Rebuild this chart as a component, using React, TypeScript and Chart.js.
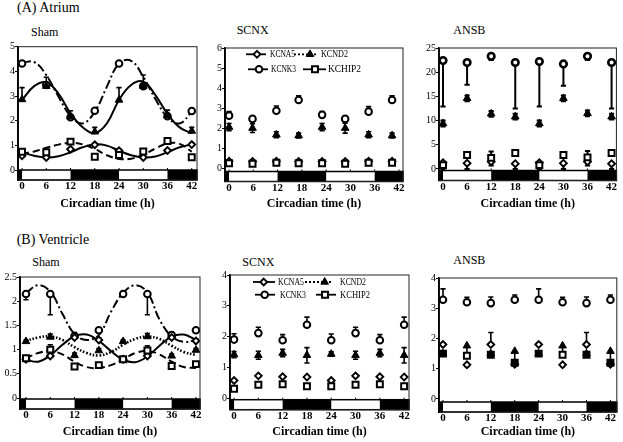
import React, { useEffect, useRef } from 'react';
import { Chart, registerables } from 'chart.js';

Chart.register(...registerables);

const FONT = "'Liberation Serif', 'DejaVu Serif', 'Noto Serif', serif";

// ---------- time axes ----------
const hours = [0, 6, 12, 18, 24, 30, 36, 42];
const hoursScnxAtrium = [0, 5.8, 11.7, 17.2, 23, 28.7, 34.5, 40.3];
const fitHours = [0, 3, 6, 9, 12, 15, 18, 21, 24, 27, 30, 33, 36, 39, 42];
const xTicks = [0, 6, 12, 18, 24, 30, 36, 42];
const darkPhases = [[-12, 0], [12, 24], [36, 60]];

// ---------- y tick labels ----------
const yTicksAtriumSham = [0, 1, 2, 3, 4, 5];
const yTicksAtriumScnx = [0, 1, 2, 3, 4, 5, 6];
const yTicksAtriumAnsb = [0, 5, 10, 15, 20, 25];
const yTicksVentSham = [0, 0.5, 1, 1.5, 2, 2.5];
const yTicksVentScnx = [0, 1, 2, 3, 4];
const yTicksVentAnsb = [0, 1, 2, 3, 4];

// ---------- (A) Atrium, Sham ----------
const aShamKCNA5 = [0.58, 0.51, 0.84, 1.02, 0.78, 0.51, 0.79, 1.03];
const aShamKCNA5Err = [0.05, 0.04, 0.06, 0.05, 0.06, 0.04, 0.05, 0.05];
const aShamKCND2 = [2.86, 3.4, 2.16, 1.55, 2.84, 3.4, 2.2, 1.58];
const aShamKCND2Err = [0.48, 0.36, 0.24, 0.18, 0.5, 0.45, 0.23, 0.15];
const aShamKCNK3 = [4.32, 3.45, 2.14, 2.4, 4.32, 3.4, 2.18, 2.39];
const aShamKCNK3Err = [0.05, 0.05, 0.05, 0.06, 0.05, 0.05, 0.05, 0.08];
const aShamKCHIP2 = [0.74, 0.72, 1.15, 0.54, 0.61, 0.75, 1.18, 0.52];
const aShamKCHIP2Err = [0.08, 0.06, 0.08, 0.05, 0.15, 0.06, 0.08, 0.04];
const aShamFitKCNK3 = [4.35, 4.38, 3.85, 2.98, 2.19, 1.89, 2.36, 3.38, 4.32, 4.43, 3.78, 2.88, 2.14, 1.89, 2.36];
const aShamFitKCND2 = [2.84, 3.4, 3.56, 3.1, 2.3, 1.73, 1.49, 1.89, 2.84, 3.45, 3.58, 3.04, 2.27, 1.73, 1.49];
const aShamFitKCNA5 = [0.72, 0.58, 0.51, 0.56, 0.72, 0.92, 1.04, 0.99, 0.78, 0.6, 0.51, 0.55, 0.72, 0.92, 1.04];
const aShamFitKCHIP2 = [0.66, 0.75, 0.9, 1.03, 1.1, 1.04, 0.85, 0.6, 0.45, 0.46, 0.62, 0.87, 1.08, 1.06, 0.74];

// ---------- (A) Atrium, SCNX ----------
const aScnxKCNA5 = [0.37, 0.36, 0.37, 0.36, 0.36, 0.36, 0.37, 0.37];
const aScnxKCNA5Err = [0.05, 0.05, 0.05, 0.05, 0.05, 0.05, 0.05, 0.05];
const aScnxKCND2 = [2.07, 2.02, 1.69, 1.65, 2.07, 2.02, 1.69, 1.65];
const aScnxKCND2Err = [0.18, 0.22, 0.15, 0.12, 0.18, 0.25, 0.15, 0.12];
const aScnxKCNK3 = [2.64, 2.48, 2.88, 3.42, 2.68, 2.48, 2.84, 3.42];
const aScnxKCNK3Err = [0.2, 0.06, 0.24, 0.2, 0.16, 0.06, 0.25, 0.2];
const aScnxKCHIP2 = [0.28, 0.25, 0.3, 0.28, 0.28, 0.25, 0.3, 0.3];
const aScnxKCHIP2Err = [0.05, 0.05, 0.05, 0.05, 0.05, 0.05, 0.05, 0.05];

// ---------- (A) Atrium, ANSB ----------
const aAnsbKCNA5 = [1.3, 1.2, 1.5, 1.1, 1.3, 1.2, 1.5, 1.1];
const aAnsbKCNA5Err = [-1.3, -1.2, -0.8, -1.1, -1.3, -1.2, -0.8, -1.1];
const aAnsbKCND2 = [9.4, 14.6, 11.4, 10.8, 9.4, 14.6, 11.5, 10.8];
const aAnsbKCND2Err = [0.6, 0.6, 0.6, 0.6, 0.6, 0.6, 0.6, 0.6];
const aAnsbKCNK3 = [22.4, 22.0, 23.3, 22.0, 22.2, 21.7, 23.3, 22.0];
const aAnsbKCNK3Err = [-9.5, -4.6, -0.8, -9.5, -9.3, -4.5, -0.8, -9.5];
const aAnsbKCHIP2 = [0.8, 2.9, 2.3, 3.3, 0.8, 2.9, 2.4, 3.3];
const aAnsbKCHIP2Err = [0.3, 0.4, 1.3, 0.4, 0.3, 0.4, 1.3, 0.4];

// ---------- (B) Ventricle, Sham ----------
const bShamKCNA5 = [0.8, 0.87, 1.25, 1.2, 0.8, 0.87, 1.25, 1.18];
const bShamKCNA5Err = [0.03, 0.04, 0.1, 0.04, 0.03, 0.04, 0.1, 0.04];
const bShamKCND2 = [1.17, 1.26, 0.88, 0.98, 1.17, 1.27, 0.87, 0.99];
const bShamKCND2Err = [0.03, 0.06, 0.05, 0.04, 0.03, 0.06, 0.04, 0.03];
const bShamKCNK3 = [2.15, 2.15, 1.28, 1.4, 2.15, 2.15, 1.3, 1.4];
const bShamKCNK3Err = [-0.12, -0.43, 0.05, 0.05, 0.04, -0.43, 0.05, 0.05];
const bShamKCHIP2 = [0.82, 1.0, 0.65, 0.68, 0.8, 0.98, 0.66, 0.7];
const bShamKCHIP2Err = [0.04, 0.1, 0.04, 0.05, 0.04, 0.1, 0.04, 0.05];
const bShamFitKCNK3 = [2.17, 2.33, 2.2, 1.74, 1.32, 1.2, 1.3, 1.78, 2.17, 2.33, 2.18, 1.62, 1.27, 1.16, 1.2];
const bShamFitKCNA5 = [0.79, 0.75, 0.88, 1.1, 1.28, 1.31, 1.18, 0.97, 0.79, 0.74, 0.86, 1.08, 1.27, 1.31, 1.2];
const bShamFitKCND2 = [1.18, 1.25, 1.27, 1.2, 1.05, 0.93, 0.88, 0.95, 1.1, 1.22, 1.27, 1.22, 1.08, 0.95, 0.89];
const bShamFitKCHIP2 = [0.82, 0.93, 0.97, 0.9, 0.75, 0.64, 0.62, 0.68, 0.8, 0.93, 0.97, 0.9, 0.75, 0.64, 0.62];

// ---------- (B) Ventricle, SCNX ----------
const bScnxKCNA5 = [0.57, 0.72, 0.69, 0.68, 0.57, 0.72, 0.69, 0.68];
const bScnxKCNA5Err = [0.03, 0.03, 0.03, 0.03, 0.03, 0.03, 0.03, 0.03];
const bScnxKCND2 = [1.41, 1.39, 1.46, 1.39, 1.43, 1.39, 1.46, 1.39];
const bScnxKCND2Err = [0.1, 0.13, 0.12, 0.25, 0.07, 0.13, 0.12, 0.25];
const bScnxKCNK3 = [1.9, 2.11, 1.88, 2.38, 1.88, 2.11, 1.88, 2.38];
const bScnxKCNK3Err = [0.19, 0.19, 0.18, 0.25, 0.2, 0.19, 0.18, 0.25];
const bScnxKCHIP2 = [0.3, 0.43, 0.45, 0.38, 0.38, 0.43, 0.45, 0.38];
const bScnxKCHIP2Err = [0.05, 0.05, 0.05, 0.05, 0.05, 0.05, 0.05, 0.05];

// ---------- (B) Ventricle, ANSB ----------
const bAnsbKCNA5 = [1.8, 1.13, 1.8, 1.15, 1.8, 1.13, 1.8, 1.15];
const bAnsbKCNA5Err = [0.05, -0.05, 0.4, -0.05, 0.05, -0.05, 0.4, -0.05];
const bAnsbKCND2 = [1.5, 1.76, 1.5, 1.58, 1.5, 1.76, 1.5, 1.58];
const bAnsbKCND2Err = [0, -0.3, 0, -0.35, 0, -0.3, 0, -0.4];
const bAnsbKCNK3 = [3.28, 3.2, 3.17, 3.28, 3.28, 3.2, 3.17, 3.28];
const bAnsbKCNK3Err = [0.36, 0.16, 0.2, 0.16, 0.36, 0.16, 0.2, 0.16];
const bAnsbKCHIP2 = [1.5, 1.43, 1.46, 1.2, 1.5, 1.46, 1.46, 1.2];

// ---------- styling ----------
const GENE_STYLE: Record<string, any> = {
  KCNA5: { pointStyle: 'rectRot', pointRadius: 3.4, pointBackgroundColor: '#fff', pointBorderColor: '#000', pointBorderWidth: 1.9 },
  KCND2: { pointStyle: 'triangle', pointRadius: 4.4, pointBackgroundColor: '#000', pointBorderColor: '#000', pointBorderWidth: 1 },
  KCNK3: { pointStyle: 'circle', pointRadius: 3.3, pointBackgroundColor: '#fff', pointBorderColor: '#000', pointBorderWidth: 2 },
  KCHIP2: { pointStyle: 'rect', pointRadius: 4.2, pointBackgroundColor: '#fff', pointBorderColor: '#000', pointBorderWidth: 2 },
};

const pts = (xs: number[], ys: number[]) => ys.map((y, i) => ({ x: xs[i], y }));

function markers(label: string, xs: number[], ys: number[], err: number[], extra: any = {}) {
  return {
    label,
    data: pts(xs, ys),
    showLine: false,
    ...GENE_STYLE[label],
    err,
    ...extra,
  };
}

function fitLine(label: string, ys: number[], dash: number[], width = 2) {
  return {
    label,
    isFit: true,
    data: pts(fitHours, ys),
    showLine: true,
    pointRadius: 0,
    borderColor: '#000',
    borderWidth: width,
    borderDash: dash,
    borderCapStyle: 'butt',
    tension: 0.4,
    fill: false,
  };
}

const DASH_DOT = [9, 3, 2, 3];
const DASHED = [7, 4];
const DOTTED = [2, 2];

function drawMarker(ctx: CanvasRenderingContext2D, st: any, x: number, y: number) {
  const r = st.pointRadius;
  ctx.save();
  ctx.fillStyle = st.pointBackgroundColor;
  ctx.strokeStyle = st.pointBorderColor;
  ctx.lineWidth = st.pointBorderWidth;
  ctx.setLineDash([]);
  ctx.beginPath();
  if (st.pointStyle === 'circle') {
    ctx.arc(x, y, r, 0, Math.PI * 2);
  } else if (st.pointStyle === 'rect') {
    const s = r * Math.SQRT1_2;
    ctx.rect(x - s, y - s, 2 * s, 2 * s);
  } else if (st.pointStyle === 'rectRot') {
    ctx.moveTo(x, y - r);
    ctx.lineTo(x + r, y);
    ctx.lineTo(x, y + r);
    ctx.lineTo(x - r, y);
    ctx.closePath();
  } else {
    for (let k = 0; k < 3; k++) {
      const a = (k * 2 * Math.PI) / 3;
      const px = x + Math.sin(a) * r;
      const py = y - Math.cos(a) * r;
      if (k === 0) ctx.moveTo(px, py);
      else ctx.lineTo(px, py);
    }
    ctx.closePath();
  }
  ctx.fill();
  ctx.stroke();
  ctx.restore();
}

function makeDecor(cfg: any) {
  return {
    id: 'decor_' + cfg.id,
    beforeDatasetsDraw(chart: any) {
      const { ctx, chartArea: a, scales } = chart;
      const xs = scales.x;
      const ys = scales.y;
      // light/dark bar
      const top = a.bottom - 10;
      ctx.save();
      ctx.fillStyle = '#fff';
      ctx.fillRect(a.left, top, a.right - a.left, 10);
      ctx.fillStyle = '#000';
      darkPhases.forEach(([s, e]) => {
        const x1 = Math.max(a.left, xs.getPixelForValue(s));
        const x2 = Math.min(a.right, xs.getPixelForValue(e));
        if (x2 > x1) ctx.fillRect(x1, top, x2 - x1, 10);
      });
      ctx.strokeStyle = '#000';
      ctx.lineWidth = 1.5;
      ctx.strokeRect(a.left, top, a.right - a.left, 10);
      // small tick marks on top of the bar
      ctx.lineWidth = 1;
      xTicks.forEach((t) => {
        const px = xs.getPixelForValue(t);
        ctx.beginPath();
        ctx.moveTo(px, top);
        ctx.lineTo(px, top - 2);
        ctx.stroke();
      });
      // error bars
      ctx.lineWidth = cfg.errWidth || 1.6;
      chart.data.datasets.forEach((ds: any, i: number) => {
        if (!ds.err) return;
        const meta = chart.getDatasetMeta(i);
        meta.data.forEach((pt: any, j: number) => {
          const e = ds.err[j];
          if (!e) return;
          const v = ds.data[j].y;
          const ends = ds.errBoth ? [v + e, v - e] : [v + e];
          ends.forEach((ev: number) => {
            const py = ys.getPixelForValue(ev);
            ctx.beginPath();
            ctx.moveTo(pt.x, pt.y);
            ctx.lineTo(pt.x, py);
            ctx.moveTo(pt.x - 2.6, py);
            ctx.lineTo(pt.x + 2.6, py);
            ctx.stroke();
          });
        });
      });
      ctx.restore();
    },
    afterDraw(chart: any) {
      const { ctx, chartArea: a } = chart;
      ctx.save();
      ctx.strokeStyle = '#222';
      ctx.lineWidth = 1;
      ctx.strokeRect(a.left, a.top, a.right - a.left, a.bottom - a.top);
      ctx.strokeStyle = '#000';
      ctx.lineWidth = 1.6;
      ctx.beginPath();
      ctx.moveTo(a.left, a.top);
      ctx.lineTo(a.left, a.bottom);
      ctx.stroke();
      if (cfg.legend) {
        cfg.legend.forEach((en: any) => {
          const y = a.top + en.y;
          ctx.strokeStyle = '#000';
          ctx.lineWidth = 1.8;
          ctx.setLineDash(en.dash || []);
          ctx.beginPath();
          ctx.moveTo(a.left + en.x1, y);
          ctx.lineTo(a.left + en.x2, y);
          ctx.stroke();
          ctx.setLineDash([]);
          drawMarker(ctx, GENE_STYLE[en.label], a.left + en.mx, y);
          ctx.fillStyle = '#000';
          ctx.font = `10px ${FONT}`;
          ctx.textBaseline = 'middle';
          ctx.textAlign = 'left';
          ctx.fillText(en.label, a.left + en.tx, y + 0.5, en.tw);
        });
      }
      ctx.restore();
    },
  };
}

const legendAtrium = [
  { label: 'KCNA5', y: 6.3, x1: 21, x2: 41, mx: 32, tx: 45, tw: 25 },
  { label: 'KCND2', y: 6.3, x1: 69, x2: 93, mx: 85, tx: 96, tw: 27, dash: DOTTED },
  { label: 'KCNK3', y: 21.3, x1: 23, x2: 43, mx: 34, tx: 46, tw: 25 },
  { label: 'KCHIP2', y: 21.3, x1: 78, x2: 101, mx: 90, tx: 103, tw: 33 },
];
const legendVentricle = [
  { label: 'KCNA5', y: 7, x1: 23, x2: 45, mx: 33.7, tx: 48, tw: 26 },
  { label: 'KCND2', y: 7, x1: 75, x2: 103, mx: 94.7, tx: 110, tw: 26, dash: DOTTED },
  { label: 'KCNK3', y: 19.7, x1: 25, x2: 45, mx: 34.7, tx: 50, tw: 26 },
  { label: 'KCHIP2', y: 19.7, x1: 86, x2: 106, mx: 95, tx: 110, tw: 30 },
];

const panels: any[] = [
  {
    id: 'aSham',
    canvas: { x: 0, y: 36, w: 205, h: 175 },
    area: { l: 18, t: 46.7, r: 197, b: 180 },
    xr: [-1.0, 43.3],
    yr: [-0.405, 5],
    yTicks: yTicksAtriumSham,
    datasets: () => [
      markers('KCND2', hours, aShamKCND2, aShamKCND2Err),
      markers('KCHIP2', hours, aShamKCHIP2, aShamKCHIP2Err),
      markers('KCNA5', hours, aShamKCNA5, aShamKCNA5Err),
      markers('KCNK3', hours, aShamKCNK3, aShamKCNK3Err),
      fitLine('KCNK3', aShamFitKCNK3, DASH_DOT),
      fitLine('KCND2', aShamFitKCND2, []),
      fitLine('KCNA5', aShamFitKCNA5, []),
      fitLine('KCHIP2', aShamFitKCHIP2, DASHED),
    ],
  },
  {
    id: 'aScnx',
    canvas: { x: 207, y: 38, w: 205, h: 173 },
    area: { l: 225, t: 48, r: 403, b: 181.5 },
    xr: [-1.0, 43.0],
    yr: [-0.63, 6],
    yTicks: yTicksAtriumScnx,
    legend: legendAtrium,
    datasets: () => [
      markers('KCND2', hoursScnxAtrium, aScnxKCND2, aScnxKCND2Err, { errBoth: true }),
      markers('KCHIP2', hoursScnxAtrium, aScnxKCHIP2, aScnxKCHIP2Err),
      markers('KCNA5', hoursScnxAtrium, aScnxKCNA5, aScnxKCNA5Err),
      markers('KCNK3', hoursScnxAtrium, aScnxKCNK3, aScnxKCNK3Err),
    ],
  },
  {
    id: 'aAnsb',
    canvas: { x: 419, y: 38, w: 204, h: 173 },
    area: { l: 439, t: 48, r: 618, b: 180.5 },
    xr: [-1.0, 43.2],
    yr: [-2.38, 25],
    yTicks: yTicksAtriumAnsb,
    errWidth: 2,
    datasets: () => [
      markers('KCND2', hours, aAnsbKCND2, aAnsbKCND2Err, { errBoth: true }),
      markers('KCHIP2', hours, aAnsbKCHIP2, aAnsbKCHIP2Err),
      markers('KCNA5', hours, aAnsbKCNA5, aAnsbKCNA5Err),
      markers('KCNK3', hours, aAnsbKCNK3, aAnsbKCNK3Err, { pointBorderWidth: 2.6 }),
    ],
  },
  {
    id: 'bSham',
    canvas: { x: 0, y: 267, w: 208, h: 172 },
    area: { l: 20, t: 277, r: 200, b: 409 },
    xr: [-1.48, 43.0],
    yr: [-0.227, 2.5],
    yTicks: yTicksVentSham,
    datasets: () => [
      markers('KCND2', hours, bShamKCND2, bShamKCND2Err),
      markers('KCHIP2', hours, bShamKCHIP2, bShamKCHIP2Err),
      markers('KCNA5', hours, bShamKCNA5, bShamKCNA5Err),
      markers('KCNK3', hours, bShamKCNK3, bShamKCNK3Err),
      fitLine('KCNK3', bShamFitKCNK3, DASH_DOT),
      fitLine('KCNA5', bShamFitKCNA5, []),
      fitLine('KCND2', bShamFitKCND2, [1.6, 1.8], 2.6),
      fitLine('KCHIP2', bShamFitKCHIP2, DASHED),
    ],
  },
  {
    id: 'bScnx',
    canvas: { x: 212, y: 265, w: 205, h: 174 },
    area: { l: 230, t: 275, r: 409, b: 409.7 },
    xr: [-1.0, 43.2],
    yr: [-0.38, 4],
    yTicks: yTicksVentScnx,
    legend: legendVentricle,
    datasets: () => [
      markers('KCND2', hours, bScnxKCND2, bScnxKCND2Err, { errBoth: true }),
      markers('KCHIP2', hours, bScnxKCHIP2, bScnxKCHIP2Err),
      markers('KCNA5', hours, bScnxKCNA5, bScnxKCNA5Err),
      markers('KCNK3', hours, bScnxKCNK3, bScnxKCNK3Err),
    ],
  },
  {
    id: 'bAnsb',
    canvas: { x: 419, y: 268, w: 204, h: 171 },
    area: { l: 439, t: 278, r: 619.5, b: 412 },
    xr: [-1.0, 43.6],
    yr: [-0.43, 4],
    yTicks: yTicksVentAnsb,
    datasets: () => [
      markers('KCND2', hours, bAnsbKCND2, bAnsbKCND2Err),
      markers('KCHIP2', hours, bAnsbKCHIP2, [0, 0, 0, 0, 0, 0, 0, 0], {
        pointBackgroundColor: ['#000', '#fff', '#000', '#000', '#000', '#fff', '#000', '#000'],
      }),
      markers('KCNA5', hours, bAnsbKCNA5, bAnsbKCNA5Err),
      markers('KCNK3', hours, bAnsbKCNK3, bAnsbKCNK3Err),
    ],
  },
];

function Panel({ cfg }: { cfg: any }) {
  const ref = useRef<HTMLCanvasElement | null>(null);
  useEffect(() => {
    if (!ref.current) return;
    const { canvas, area } = cfg;
    const padTop = area.t - canvas.y;
    const padRight = canvas.x + canvas.w - area.r;
    const yW = area.l - canvas.x;
    const xH = canvas.y + canvas.h - area.b;
    const chart = new Chart(ref.current, {
      type: 'scatter',
      data: { datasets: cfg.datasets() },
      options: {
        animation: false,
        responsive: false,
        maintainAspectRatio: false,
        devicePixelRatio: 1,
        layout: { padding: { top: padTop, right: padRight, left: 0, bottom: 0 } },
        plugins: { legend: { display: false }, tooltip: { enabled: false } },
        scales: {
          x: {
            type: 'linear',
            min: cfg.xr[0],
            max: cfg.xr[1],
            afterBuildTicks: (ax: any) => {
              ax.ticks = xTicks.map((v) => ({ value: v }));
            },
            afterFit: (ax: any) => {
              ax.height = xH;
            },
            grid: { display: false, drawTicks: false, tickLength: 0 },
            border: { display: false },
            ticks: {
              font: { family: FONT, size: 11, weight: 'bold' },
              color: '#000',
              padding: 0,
              autoSkip: false,
              maxRotation: 0,
              callback: (v: any) => String(v),
            },
            title: {
              display: true,
              text: 'Circadian time (h)',
              color: '#000',
              font: { family: FONT, size: 12, weight: 'bold' },
              padding: 0,
            },
          },
          y: {
            type: 'linear',
            min: cfg.yr[0],
            max: cfg.yr[1],
            afterBuildTicks: (ax: any) => {
              ax.ticks = cfg.yTicks.map((v: number) => ({ value: v }));
            },
            afterFit: (ax: any) => {
              ax.width = yW;
            },
            grid: { drawOnChartArea: false, drawTicks: true, tickLength: 3, color: '#000' },
            border: { display: true, color: '#000', width: 1.5 },
            ticks: {
              font: { family: FONT, size: 10 },
              color: '#000',
              padding: 0,
              callback: (v: any) => String(v),
            },
          },
        },
      } as any,
      plugins: [makeDecor(cfg)],
    } as any);
    return () => chart.destroy();
  }, [cfg]);
  const { x, y, w, h } = cfg.canvas;
  return (
    <canvas
      ref={ref}
      width={w}
      height={h}
      style={{ position: 'absolute', left: x, top: y, width: w, height: h }}
    />
  );
}

const labels = [
  { t: '(A) Atrium', x: 17, top: 1, size: 14 },
  { t: 'Sham', x: 31, top: 26.2, size: 12 },
  { t: 'SCNX', x: 236.7, top: 24.3, size: 12 },
  { t: 'ANSB', x: 453.3, top: 24.3, size: 12 },
  { t: '(B) Ventricle', x: 16.7, top: 232.7, size: 14 },
  { t: 'Sham', x: 32.3, top: 256, size: 12 },
  { t: 'SCNX', x: 242.3, top: 256, size: 12 },
  { t: 'ANSB', x: 453.3, top: 254.3, size: 12 },
];

export default function App() {
  return (
    <div
      style={{
        position: 'absolute',
        left: 0,
        top: 0,
        width: 623,
        height: 442,
        background: '#fff',
        overflow: 'hidden',
      }}
    >
      {labels.map((l, i) => (
        <div
          key={i}
          style={{
            position: 'absolute',
            left: l.x,
            top: l.top,
            fontFamily: FONT,
            fontSize: l.size,
            lineHeight: 1,
            whiteSpace: 'nowrap',
            color: '#000',
          }}
        >
          {l.t}
        </div>
      ))}
      {panels.map((p) => (
        <Panel key={p.id} cfg={p} />
      ))}
    </div>
  );
}
